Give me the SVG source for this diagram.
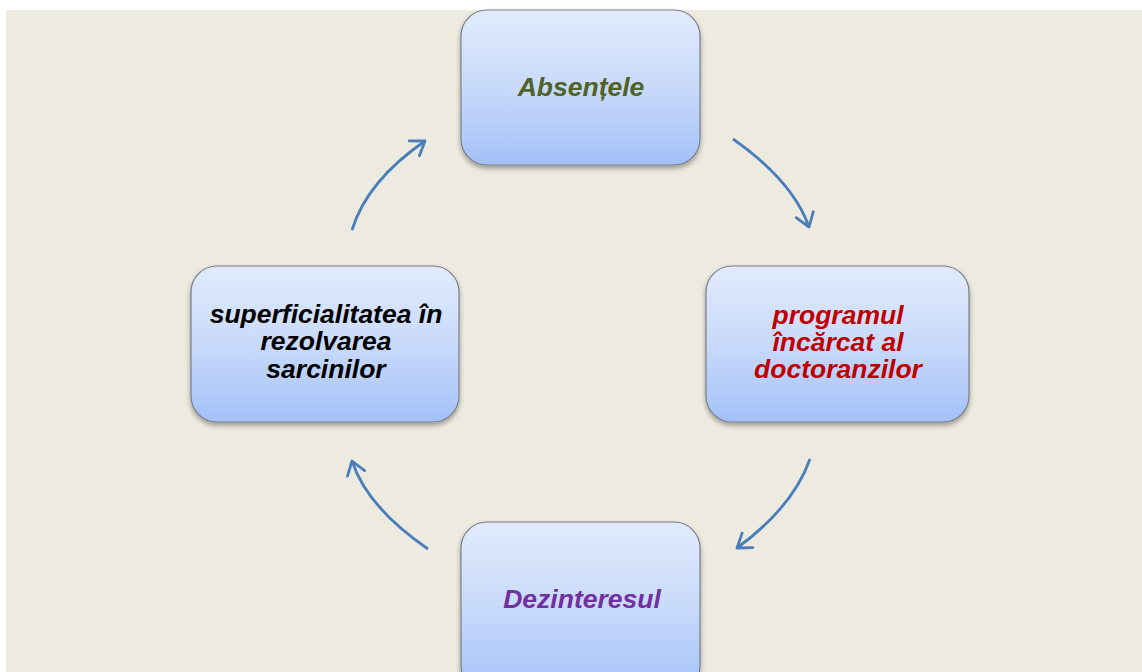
<svg xmlns="http://www.w3.org/2000/svg" width="1142" height="672" viewBox="0 0 1142 672">
<style>
.box{fill:url(#g);stroke:#7a7f88;stroke-width:1.2;filter:url(#sh)}
.t{font-family:"Liberation Sans",Arial,sans-serif;font-weight:bold;font-style:italic;font-size:26.5px;text-anchor:middle}
.arr{fill:none;stroke:#4A7EBB;stroke-width:2.8;marker-end:url(#ah)}
</style>
<defs>
<linearGradient id="g" x1="0" y1="0" x2="0" y2="1">
<stop offset="0" stop-color="#E2EBFC"/>
<stop offset="0.5" stop-color="#C8DAFA"/>
<stop offset="1" stop-color="#A3C1F8"/>
</linearGradient>
<filter id="sh" x="-10%" y="-10%" width="120%" height="130%">
<feDropShadow dx="0" dy="3" stdDeviation="2.5" flood-color="#000" flood-opacity="0.35"/>
</filter>
<marker id="ah" markerWidth="24" markerHeight="24" refX="15" refY="12" orient="auto" markerUnits="userSpaceOnUse">
<path d="M2,3 L15,12 L2,21" fill="none" stroke="#4A7EBB" stroke-width="2.8" stroke-linecap="round" stroke-linejoin="round"/>
</marker>
</defs>
<rect x="0" y="0" width="1142" height="672" fill="#ffffff"/>
<rect x="6" y="10" width="1136" height="662" fill="#EDEAE0"/>
<g id="connectors">
<path class="arr" d="M733,139 Q793,181 809,227"/>
<path class="arr" d="M810,459 Q793,507 737,548"/>
<path class="arr" d="M428,549 Q367,507 352,461"/>
<path class="arr" d="M352,230 Q367,181 425,141"/>
</g>
<g id="node-absentele">
<rect class="box" x="461" y="10" width="239" height="155" rx="26"/>
<text class="t" x="581" y="96" fill="#4F6228">Absențele</text>
</g>
<g id="node-programul">
<rect class="box" x="706" y="266" width="263" height="156" rx="26"/>
<text class="t" x="838" y="324" fill="#C00000">programul</text>
<text class="t" x="838" y="351" fill="#C00000">încărcat al</text>
<text class="t" x="838" y="378" fill="#C00000">doctoranzilor</text>
</g>
<g id="node-dezinteresul">
<rect class="box" x="461" y="522" width="239" height="170" rx="26"/>
<text class="t" x="582" y="608" fill="#7030A0">Dezinteresul</text>
</g>
<g id="node-superficialitatea">
<rect class="box" x="191" y="266" width="268" height="156" rx="26"/>
<text class="t" x="326" y="323" fill="#000000">superficialitatea în</text>
<text class="t" x="326" y="350" fill="#000000">rezolvarea</text>
<text class="t" x="326" y="378" fill="#000000">sarcinilor</text>
</g>
</svg>
